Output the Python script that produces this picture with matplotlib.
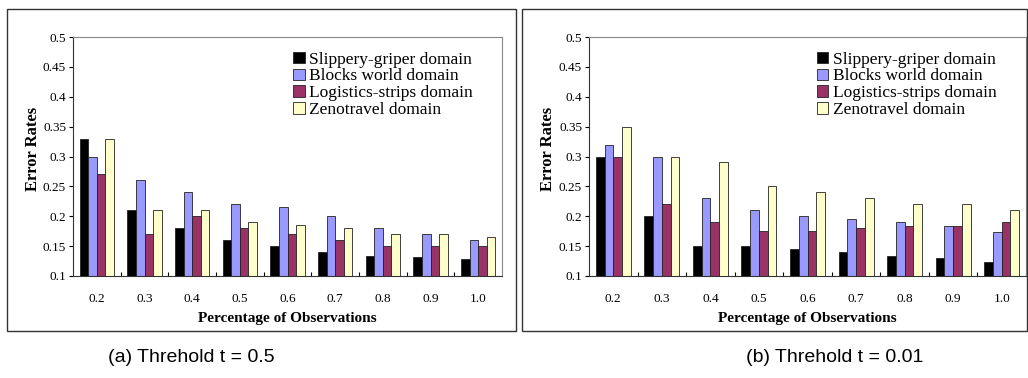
import numpy as np
import matplotlib as mpl
import matplotlib.pyplot as plt
from matplotlib.patches import Rectangle

mpl.rcParams['font.family'] = ['Liberation Serif', 'DejaVu Serif']

pct = ['0.2', '0.3', '0.4', '0.5', '0.6', '0.7', '0.8', '0.9', '1.0']
domains = ['Slippery-griper domain', 'Blocks world domain',
           'Logistics-strips domain', 'Zenotravel domain']
colors = ['#000000', '#9999FF', '#993366', '#FFFFCC']

# threshold t = 0.5
slip_a  = [0.33, 0.21, 0.18, 0.16, 0.15, 0.141, 0.133, 0.131, 0.128]
block_a = [0.30, 0.26, 0.24, 0.22, 0.216, 0.201, 0.181, 0.17, 0.16]
logi_a  = [0.27, 0.17, 0.20, 0.18, 0.17, 0.16, 0.15, 0.15, 0.15]
zeno_a  = [0.33, 0.21, 0.21, 0.19, 0.185, 0.181, 0.17, 0.17, 0.166]

# threshold t = 0.01
slip_b  = [0.30, 0.20, 0.15, 0.15, 0.145, 0.14, 0.133, 0.13, 0.124]
block_b = [0.32, 0.30, 0.23, 0.21, 0.20, 0.195, 0.19, 0.184, 0.174]
logi_b  = [0.30, 0.22, 0.19, 0.175, 0.175, 0.18, 0.184, 0.184, 0.19]
zeno_b  = [0.35, 0.30, 0.29, 0.25, 0.24, 0.23, 0.22, 0.22, 0.21]

captions = ['(a) Threhold t = 0.5', '(b) Threhold t = 0.01']

W, H = 1028, 378
fig = plt.figure(figsize=(W/100, H/100), dpi=100)

def fx(px): return px / W
def fy(py): return 1 - py / H

panels = [
    (dict(frame=(7, 9, 516, 331), ax=(73, 37, 502, 276)), [slip_a, block_a, logi_a, zeno_a]),
    (dict(frame=(522, 9, 1027, 331), ax=(589, 37, 1026, 276)), [slip_b, block_b, logi_b, zeno_b]),
]

x = np.arange(len(pct))
bw = 0.18
for i, (geo, series) in enumerate(panels):
    x0, y0, x1, y1 = geo['frame']
    fig.patches.append(Rectangle((fx(x0), fy(y1)), fx(x1 - x0), (y1 - y0) / H,
                                 transform=fig.transFigure, fill=False,
                                 edgecolor='#333333', lw=1))
    a0, b0, a1, b1 = geo['ax']
    ax = fig.add_axes([fx(a0), fy(b1), fx(a1 - a0), (b1 - b0) / H])
    for k, (vals, c, lbl) in enumerate(zip(series, colors, domains)):
        v = np.array(vals)
        ax.bar(x + (k - 1.5) * bw, v - 0.1, bw, bottom=0.1, color=c,
               edgecolor='#222222', lw=0.6, label=lbl)
    ax.set_xlim(-0.5, len(pct) - 0.5)
    ax.set_ylim(0.1, 0.5)
    ax.set_yticks(np.arange(0.1, 0.501, 0.05))
    ax.set_yticklabels(['0.1', '0.15', '0.2', '0.25', '0.3', '0.35', '0.4', '0.45', '0.5'])
    ax.set_xticks(x)
    ax.set_xticklabels(pct)
    ax.set_xticks(np.arange(0.5, len(pct) - 0.5, 1), minor=True)
    ax.tick_params(axis='x', which='major', length=0, pad=12, labelsize=9.5)
    ax.tick_params(axis='x', which='minor', length=3, direction='in', width=0.8)
    ax.tick_params(axis='y', length=3, width=0.8, labelsize=9.5, pad=2)
    for s in ['top', 'right']:
        ax.spines[s].set_color('#888888')
    ax.spines['bottom'].set_color('#333333')
    ax.spines['left'].set_color('#333333')
    ax.set_ylabel('Error Rates', fontweight='bold', fontsize=12)
    ax.yaxis.set_label_coords(-0.075, 0.53)
    ax.set_xlabel('Percentage of Observations', fontweight='bold', fontsize=11, labelpad=5)
    ax.legend(loc='upper right', bbox_to_anchor=(0.96, 0.99), frameon=False,
              fontsize=12.5, handlelength=0.65, handleheight=0.65, handletextpad=0.25,
              labelspacing=0.05, borderaxespad=0.3)
    cx = (x0 + x1) / 2 - 70 if i == 0 else (x0 + x1) / 2 + 60
    fig.text(fx(cx), fy(357), captions[i], ha='center', va='center', fontsize=14,
             family=['Liberation Sans Narrow', 'Liberation Sans'])

fig.savefig('out.png', dpi=100)
